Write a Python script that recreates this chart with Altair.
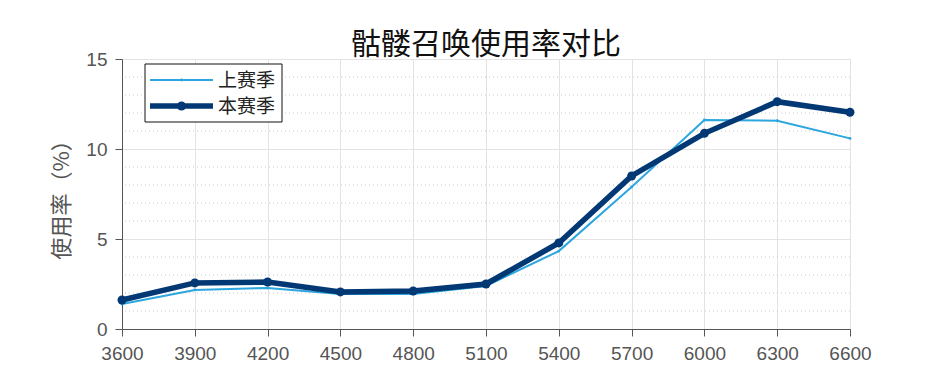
import altair as alt
import pandas as pd

x_vals = [3600, 3900, 4200, 4500, 4800, 5100, 5400, 5700, 6000, 6300, 6600]
last_season = [1.39, 2.17, 2.28, 1.94, 1.94, 2.39, 4.33, 7.89, 11.61, 11.57, 10.59]
this_season = [1.61, 2.56, 2.61, 2.06, 2.11, 2.50, 4.78, 8.50, 10.87, 12.63, 12.04]
series_names = ["上赛季", "本赛季"]
colors = ["#2ba6de", "#023873"]
widths = [2, 5.5]
point_sizes = [8, 80]
y_major = [0, 5, 10, 15]
y_minor = [1, 2, 3, 4, 6, 7, 8, 9, 11, 12, 13, 14]

rows = []
for xv, a, b in zip(x_vals, last_season, this_season):
    rows.append({"x": xv, "y": a, "s": series_names[0]})
    rows.append({"x": xv, "y": b, "s": series_names[1]})
df = pd.DataFrame(rows)

FONT = "Liberation Sans"
CJK = "Noto Sans CJK SC"

xscale = alt.Scale(domain=[3600, 6600], nice=False, zero=False)
yscale = alt.Scale(domain=[0, 15], nice=False)

x_axis = alt.Axis(values=x_vals, format="d", title=None, grid=True,
                  gridColor="#e3e3e3", tickSize=7, tickWidth=1, labelPadding=8,
                  labelFlush=False, labelOverlap=False,
                  labelFont=FONT, labelFontSize=19, labelColor="#555",
                  domainColor="#555", tickColor="#555")
y_axis = alt.Axis(values=y_major, title="使用率（%）", grid=True, gridColor="#e3e3e3",
                  tickSize=7, tickWidth=1, labelPadding=8, labelFlush=False,
                  titleFont=CJK, titleFontSize=22,
                  titleFontWeight="normal", titleColor="#555", titlePadding=12,
                  labelFont=FONT, labelFontSize=19, labelColor="#555",
                  domainColor="#555", tickColor="#555")

color_enc = alt.Color("s:N", scale=alt.Scale(domain=series_names, range=colors), legend=None)
sw_enc = alt.StrokeWidth("s:N", scale=alt.Scale(domain=series_names, range=widths), legend=None)

base = alt.Chart(df)

minor = alt.Chart(pd.DataFrame({"v": y_minor})).mark_rule(
    color="#c8c8c8", strokeDash=[1, 3], strokeWidth=1
).encode(
    y=alt.Y("v:Q", scale=yscale, axis=y_axis),
)

lines = base.mark_line().encode(
    x=alt.X("x:Q", scale=xscale, axis=x_axis),
    y=alt.Y("y:Q", scale=yscale, axis=y_axis),
    color=color_enc,
    strokeWidth=sw_enc,
    order=alt.Order("s:N"),
)

def pts(i):
    return base.transform_filter(alt.datum.s == series_names[i]).mark_point(
        filled=True, size=point_sizes[i], opacity=1, color=colors[i]
    ).encode(x=alt.X("x:Q", scale=xscale, axis=x_axis),
             y=alt.Y("y:Q", scale=yscale, axis=y_axis))

# manual legend (pixel-positioned decoration)
one = pd.DataFrame({"a": [0]})
leg_box = alt.Chart(one).mark_rect(fill="white", stroke="#111", strokeWidth=1).encode(
    x=alt.value(23), x2=alt.value(160), y=alt.value(5), y2=alt.value(63))
leg_layers = [leg_box]
row_y = [21, 47]
for i, name in enumerate(series_names):
    leg_layers.append(alt.Chart(one).mark_rule(color=colors[i], strokeWidth=widths[i]).encode(
        x=alt.value(28), x2=alt.value(91), y=alt.value(row_y[i])))
    leg_layers.append(alt.Chart(one).mark_point(filled=True, opacity=1, color=colors[i],
                                                size=point_sizes[i]).encode(
        x=alt.value(59.5), y=alt.value(row_y[i])))
    leg_layers.append(alt.Chart(pd.DataFrame({"t": [name]})).mark_text(
        align="left", baseline="middle", font=CJK, fontSize=19, color="#222").encode(
        x=alt.value(96), y=alt.value(row_y[i] + 1), text="t:N"))

chart = alt.layer(minor, lines, pts(0), pts(1), *leg_layers).properties(
    width=728, height=270,
    padding={"left": 114, "top": 51, "right": 80, "bottom": 54},
    autosize=alt.AutoSizeParams(type="none"),
    background="white",
    title=alt.Title("骷髅召唤使用率对比", font=CJK, fontSize=30, fontWeight="normal",
                    color="#111", offset=-10, anchor="middle"),
).configure_view(stroke="#d6d6d6", strokeWidth=1)

chart.save("out.html", embed_options={"renderer": "svg", "actions": False})
